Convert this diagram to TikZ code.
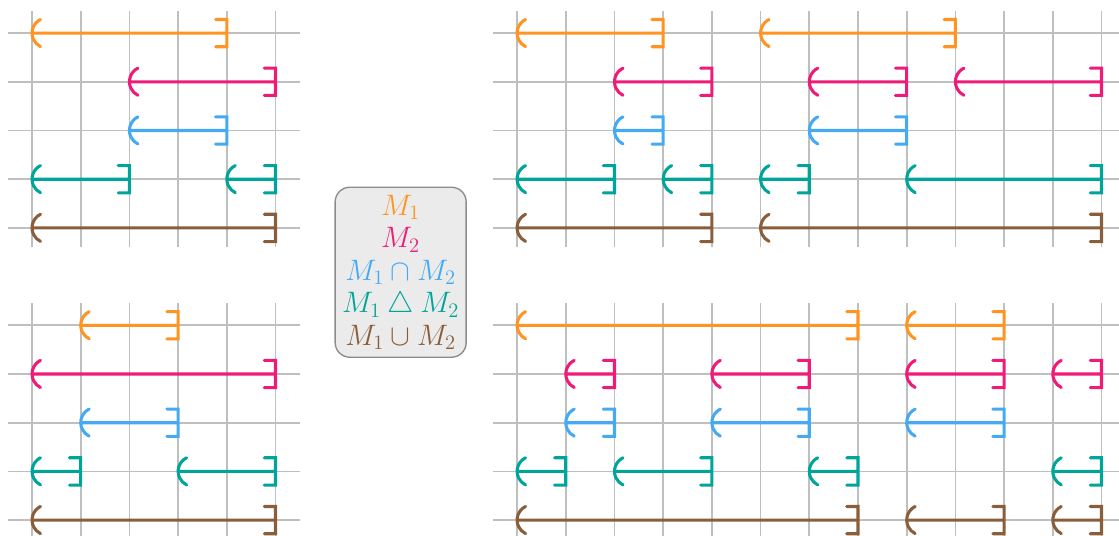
\documentclass[tikz,border=0pt]{standalone}
\usepackage{amsmath,amssymb}
\usepackage{xcolor}
\usetikzlibrary{arrows.meta, positioning, calc}
\definecolor{setA}{HTML}{FF9422}
\definecolor{setB}{HTML}{EE1C78}
\definecolor{setI}{HTML}{45AAF2}
\definecolor{setD}{HTML}{00A599}
\definecolor{setU}{HTML}{8A5E3B}
\tikzset{
  gridline/.style={draw=black!25, line width=1pt},
  interval/.style={line width=1.8pt, line cap=round, line join=miter},
  keybox/.style={draw=black!45, fill=black!8, line width=0.8pt, rounded corners=0.3cm,
    minimum width=2.69cm, minimum height=3.49cm, inner sep=1pt, align=center,
    font=\fontsize{18.8}{19}\selectfont},
}
% half open interval (a,b] in colour #1 on row #2
\newcommand{\halfopen}[4]{%
  \draw[interval, #1] (#3,#2) -- (#4,#2)
    (#3+0.175,#2+0.28) arc[start angle=116, end angle=244, radius=0.31]
    (#4-0.23,#2+0.28) -| (#4,#2-0.28) -- (#4-0.23,#2-0.28);}

\begin{document}
\begin{tikzpicture}
\useasboundingbox (-0.657,-0.308) rectangle (22.32,10.68);
% grids: left x, columns, bottom row
\foreach \gx/\gn/\gy in {0/5/0, 0/5/6, 9.96/12/0, 9.96/12/6} {
  \foreach \i in {0,...,\gn}
    \draw[gridline] (\gx+\i,\gy-0.4) -- (\gx+\i,\gy+4.45);
  \foreach \j in {0,...,4}
    \draw[gridline] (\gx-0.5,\gy+\j) -- (\gx+\gn+0.5,\gy+\j);
}
% top left
\foreach \c/\r/\a/\b in {setA/10/0/4, setB/9/2/5, setI/8/2/4, setD/7/0/2, setD/7/4/5, setU/6/0/5}
  \halfopen{\c}{\r}{\a}{\b};
% bottom left
\foreach \c/\r/\a/\b in {setA/4/1/3, setB/3/0/5, setI/2/1/3, setD/1/0/1, setD/1/3/5, setU/0/0/5}
  \halfopen{\c}{\r}{\a}{\b};
% top right
\foreach \c/\r/\a/\b in {setA/10/0/3, setA/10/5/9,
    setB/9/2/4, setB/9/6/8, setB/9/9/12,
    setI/8/2/3, setI/8/6/8,
    setD/7/0/2, setD/7/3/4, setD/7/5/6, setD/7/8/12,
    setU/6/0/4, setU/6/5/12}
  \halfopen{\c}{\r}{9.96+\a}{9.96+\b};
% bottom right
\foreach \c/\r/\a/\b in {setA/4/0/7, setA/4/8/10,
    setB/3/1/2, setB/3/4/6, setB/3/8/10, setB/3/11/12,
    setI/2/1/2, setI/2/4/6, setI/2/8/10,
    setD/1/0/1, setD/1/2/4, setD/1/6/7, setD/1/11/12,
    setU/0/0/7, setU/0/8/10, setU/0/11/12}
  \halfopen{\c}{\r}{9.96+\a}{9.96+\b};
% legend
\node[keybox] (key) at (7.57,5.09) {%
  \textcolor{setA}{$M_1$}\\
  \textcolor{setB}{$M_2$}\\
  \textcolor{setI}{$M_1\cap M_2$}\\
  \textcolor{setD}{$M_1\bigtriangleup M_2$}\\
  \textcolor{setU}{$M_1\cup M_2$}};
\end{tikzpicture}
\end{document}
